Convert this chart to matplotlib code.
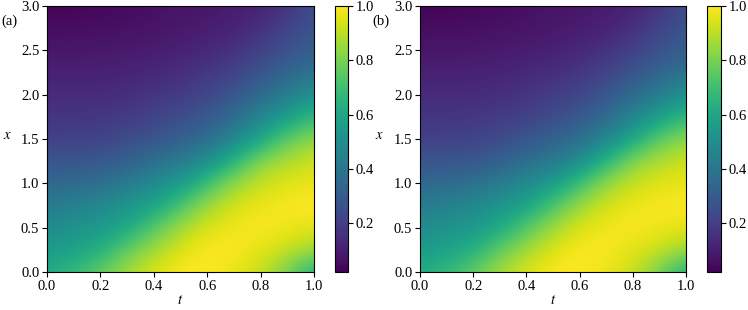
import numpy as np
import matplotlib
matplotlib.use("Agg")
import matplotlib.pyplot as plt

# grid nodes
t_vals = [0.0, 0.1, 0.2, 0.3, 0.4, 0.5, 0.6, 0.7, 0.8, 0.9, 1.0]
x_vals = [0.0, 0.25, 0.5, 0.75, 1.0, 1.25, 1.5, 1.75, 2.0, 2.25, 2.5, 2.75, 3.0]

# values, one list per t column (x from 0 to 3)
col_t00 = [0.62, 0.55, 0.49, 0.43, 0.35, 0.28, 0.21, 0.17, 0.14, 0.11, 0.08, 0.055, 0.03]
col_t01 = [0.68, 0.58, 0.52, 0.445, 0.36, 0.28, 0.21, 0.17, 0.14, 0.11, 0.08, 0.055, 0.03]
col_t02 = [0.77, 0.63, 0.55, 0.48, 0.38, 0.29, 0.215, 0.175, 0.14, 0.11, 0.085, 0.06, 0.04]
col_t03 = [0.87, 0.77, 0.60, 0.53, 0.425, 0.32, 0.245, 0.19, 0.15, 0.115, 0.09, 0.065, 0.045]
col_t04 = [0.95, 0.86, 0.75, 0.58, 0.49, 0.37, 0.28, 0.21, 0.17, 0.13, 0.095, 0.077, 0.058]
col_t05 = [1.0, 0.95, 0.86, 0.725, 0.555, 0.42, 0.32, 0.25, 0.19, 0.15, 0.105, 0.086, 0.07]
col_t06 = [0.995, 1.0, 0.95, 0.855, 0.70, 0.50, 0.37, 0.29, 0.225, 0.175, 0.13, 0.095, 0.08]
col_t07 = [0.97, 0.995, 0.98, 0.94, 0.845, 0.655, 0.47, 0.36, 0.28, 0.215, 0.16, 0.115, 0.09]
col_t08 = [0.92, 0.96, 0.995, 0.975, 0.92, 0.825, 0.60, 0.465, 0.36, 0.275, 0.205, 0.155, 0.11]
col_t09 = [0.79, 0.92, 0.98, 0.99, 0.96, 0.88, 0.765, 0.565, 0.43, 0.34, 0.27, 0.215, 0.165]
col_t10 = [0.63, 0.85, 0.96, 1.0, 0.97, 0.93, 0.84, 0.68, 0.525, 0.39, 0.315, 0.28, 0.25]

exact_cols = [col_t00, col_t01, col_t02, col_t03, col_t04, col_t05,
              col_t06, col_t07, col_t08, col_t09, col_t10]
pred_cols = exact_cols  # panel (b) looks identical

panel_labels = ["(a)", "(b)"]
cbar_ticks = [0.2, 0.4, 0.6, 0.8, 1.0]
x_ticks = [0.0, 0.2, 0.4, 0.6, 0.8, 1.0]
y_ticks = [0.0, 0.5, 1.0, 1.5, 2.0, 2.5, 3.0]
vmin, vmax = 0.02, 1.0

plt.rcParams['font.family'] = ['Liberation Serif', 'DejaVu Serif']
plt.rcParams['font.size'] = 10.5
plt.rcParams['mathtext.fontset'] = 'stix'

W, H = 748, 310
fig = plt.figure(figsize=(W / 100, H / 100), dpi=100)

def fx(px):
    return px / W

def fy(py):
    return 1 - py / H

axes_px = [(47, 314), (420, 686)]
cbar_px = [(335, 348), (707, 721)]
label_px = [(9, 21), (381, 21)]
ylab_px = [7, 379]
top, bot = 6, 272

dt = (t_vals[1] - t_vals[0]) / 2
dx = (x_vals[1] - x_vals[0]) / 2
extent = [t_vals[0] - dt, t_vals[-1] + dt, x_vals[0] - dx, x_vals[-1] + dx]

for i, cols in enumerate([exact_cols, pred_cols]):
    Z = np.array(cols).T  # rows: x, columns: t
    l, r = axes_px[i]
    ax = fig.add_axes([fx(l), fy(bot), fx(r) - fx(l), fy(top) - fy(bot)])
    im = ax.imshow(Z, origin='lower', extent=extent, aspect='auto',
                   cmap='viridis', vmin=vmin, vmax=vmax, interpolation='bicubic')
    ax.set_xlim(0, 1)
    ax.set_ylim(0, 3)
    ax.set_xticks(x_ticks)
    ax.set_yticks(y_ticks)
    ax.set_xticklabels([f"{v:.1f}" for v in x_ticks])
    ax.set_yticklabels([f"{v:.1f}" for v in y_ticks])
    ax.tick_params(direction='out', length=3.5, width=0.8, pad=2)
    ax.set_xlabel(r"$t$", labelpad=1)
    fig.text(fx(ylab_px[i]), fy(135), r"$x$", ha='center', va='center')
    cl, cr = cbar_px[i]
    cax = fig.add_axes([fx(cl), fy(bot), fx(cr) - fx(cl), fy(top) - fy(bot)])
    cb = fig.colorbar(im, cax=cax, ticks=cbar_ticks)
    cb.ax.set_yticklabels([f"{v:.1f}" for v in cbar_ticks])
    cb.ax.tick_params(direction='out', length=3.5, width=0.8, pad=2)
    cb.outline.set_linewidth(0.8)
    lx, ly = label_px[i]
    fig.text(fx(lx), fy(ly), panel_labels[i], ha='center', va='center')

fig.savefig("out.png", dpi=100)
